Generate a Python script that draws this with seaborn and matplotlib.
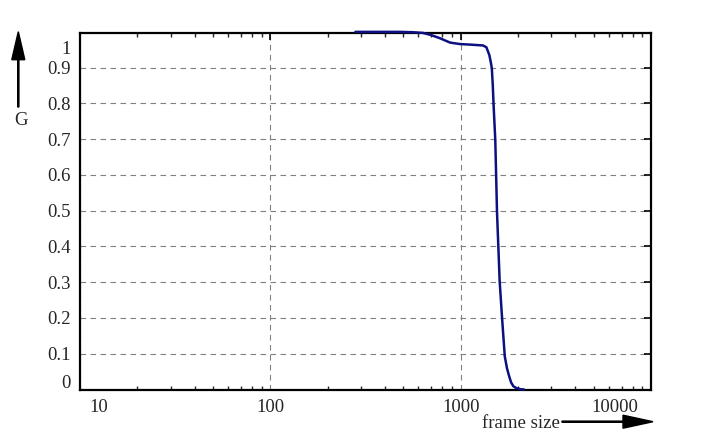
import numpy as np
import seaborn as sns
import matplotlib.pyplot as plt
import matplotlib.transforms as mtrans
from matplotlib.patches import FancyArrow
from matplotlib.ticker import LogLocator, NullFormatter

# curve
frame_size = [280, 320, 380, 480, 560, 635, 700, 780, 880, 990, 1150, 1310,
              1365, 1415, 1440, 1458, 1475, 1489, 1520, 1552, 1603, 1652,
              1705, 1750, 1789, 1840, 1892, 1960, 2050, 2150]
G = [1.0, 1.0, 1.0, 1.0, 0.999, 0.997, 0.991, 0.982, 0.970, 0.966, 0.964, 0.962,
     0.957, 0.935, 0.915, 0.898, 0.85, 0.796, 0.698, 0.497, 0.302, 0.196,
     0.093, 0.060, 0.041, 0.020, 0.009, 0.004, 0.001, 0.0]

x_ticks = [10, 100, 1000, 10000]
x_labels = ['10', '100', '1000', '10000']
y_ticks = [0.1, 0.2, 0.3, 0.4, 0.5, 0.6, 0.7, 0.8, 0.9]
y_labels = ['0.1', '0.2', '0.3', '0.4', '0.5', '0.6', '0.7', '0.8', '0.9']

FS = 13.5

sns.set_theme(style='white')
plt.rcParams['font.family'] = ['Liberation Serif', 'DejaVu Serif']
plt.rcParams['font.size'] = FS

fig = plt.figure(figsize=(7.02, 4.40), dpi=100)
ax = fig.add_axes([80/702, 50.5/440, 571/702, 356.2/440])

sns.lineplot(x=frame_size, y=G, ax=ax, color='#0c1080', lw=1.8)
for ln in ax.lines:
    ln.set_clip_on(False)
    ln.set_zorder(5)

ax.set_xscale('log')
ax.set_xlim(10, 10000)
ax.set_ylim(0, 0.996)
ax.set_xticks(x_ticks)
ax.xaxis.set_minor_locator(LogLocator(base=10, subs=np.arange(2, 10)))
ax.xaxis.set_minor_formatter(NullFormatter())
ax.set_yticks(y_ticks)
ax.tick_params(axis='both', which='both', labelbottom=False, labelleft=False)

ax.tick_params(axis='both', which='major', direction='in', length=5, width=1.2,
               top=True, right=True, colors='black')
ax.tick_params(axis='x', which='minor', direction='in', length=3, width=1.0,
               top=True, bottom=True)
for s in ax.spines.values():
    s.set_color('black')
    s.set_linewidth(1.6)

ax.grid(True, which='major', color='#808080', lw=0.8, linestyle=(0, (5, 4)))
ax.set_xlabel('')
ax.set_ylabel('')

# tick labels as plain text; the end ones nudged inward like the original
ytr = ax.get_yaxis_transform()
for v, lab in zip(y_ticks, y_labels):
    ax.text(-0.016, v, lab, transform=ytr, ha='right', va='center_baseline', fontsize=FS)
ax.text(-0.016, 0.959, '1', transform=ax.transAxes, ha='right', va='center_baseline', fontsize=FS)
ax.text(-0.016, 0.022, '0', transform=ax.transAxes, ha='right', va='center_baseline', fontsize=FS)

xtr = ax.get_xaxis_transform()
nudge = [(9, 'left'), (0, 'center'), (0, 'center'), (-13, 'right')]
for v, lab, (dx, ha) in zip(x_ticks, x_labels, nudge):
    off = mtrans.ScaledTranslation(dx / 100, 0, fig.dpi_scale_trans)
    ax.text(v, -0.028, lab, transform=xtr + off, ha=ha, va='top', fontsize=FS)

# axis arrows (inches on the figure)
tr = fig.dpi_scale_trans
fig.add_artist(FancyArrow(0.183, 3.33, 0, 0.753, width=0.012, head_width=0.13,
                          head_length=0.28, length_includes_head=True,
                          color='black', transform=tr))
fig.text(0.207, 4.40 - 1.20, 'G', transform=tr, ha='center', va='center', fontsize=FS)
fig.add_artist(FancyArrow(5.62, 0.183, 0.91, 0, width=0.012, head_width=0.13,
                          head_length=0.30, length_includes_head=True,
                          color='black', transform=tr))
fig.text(5.60, 0.12, 'frame size', transform=tr, ha='right', va='baseline', fontsize=FS)

fig.savefig('out.png', dpi=100)
